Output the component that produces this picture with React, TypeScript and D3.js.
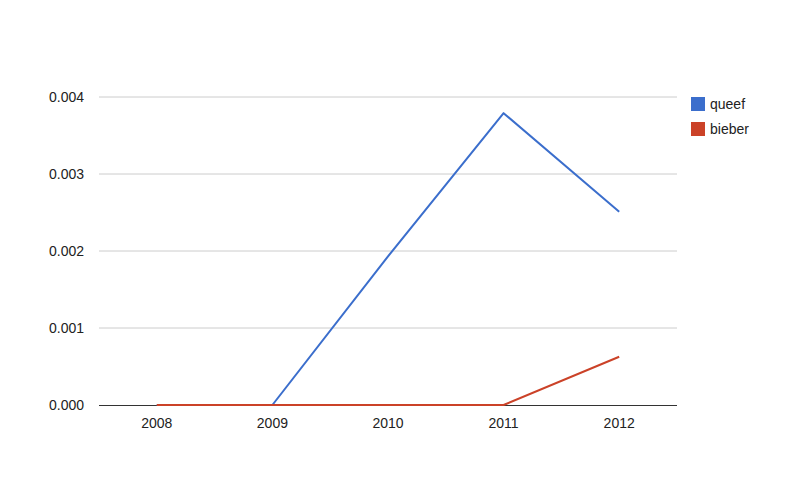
import * as d3 from "d3";

const years = ["2008", "2009", "2010", "2011", "2012"];
const seriesNames = ["queef", "bieber"];
const queef = [0, 0, 0.00193, 0.00379, 0.00251];
const bieber = [0, 0, 0, 0, 0.000627];
const yTicks = [0, 0.001, 0.002, 0.003, 0.004];

const colors = ["#3b6ecc", "#cb4228"];

const WIDTH = 795;
const HEIGHT = 488;
const LEFT = 99;
const RIGHT = 677;
const TOP = 97;
const BOTTOM = 405;

export default function App() {
	const x = d3.scaleBand<string>().domain(years).range([LEFT, RIGHT]);
	const y = d3.scaleLinear().domain([0, 0.004]).range([BOTTOM, TOP]);
	const fmt = d3.format(".3f");

	const lineGen = d3
		.line<number>()
		.x((_, i) => (x(years[i]) ?? 0) + x.bandwidth() / 2)
		.y((d) => y(d));

	// bieber drawn after queef so it sits on top along the baseline
	const series = [queef, bieber];

	return (
		<svg
			width={WIDTH}
			height={HEIGHT}
			style={{ position: "absolute", left: 0, top: 0 }}
			fontFamily="Arial, 'Liberation Sans', sans-serif"
		>
			<rect width={WIDTH} height={HEIGHT} fill="#fff" />
			{yTicks.map((t) => (
				<g key={t}>
					{t > 0 && (
						<line x1={LEFT} x2={RIGHT} y1={y(t)} y2={y(t)} stroke="#cccccc" strokeWidth={1} />
					)}
					<text
						x={84}
						y={y(t)}
						dy="0.35em"
						textAnchor="end"
						fontSize={14}
						fill="#222"
					>
						{fmt(t)}
					</text>
				</g>
			))}
			<line x1={LEFT} x2={RIGHT} y1={BOTTOM + 0.5} y2={BOTTOM + 0.5} stroke="#333" strokeWidth={1} />
			{years.map((yr) => (
				<text
					key={yr}
					x={(x(yr) ?? 0) + x.bandwidth() / 2}
					y={427.5}
					textAnchor="middle"
					fontSize={14}
					fill="#222"
				>
					{yr}
				</text>
			))}
			{series.map((s, i) => (
				<path
					key={seriesNames[i]}
					d={lineGen(s) ?? ""}
					fill="none"
					stroke={colors[i]}
					strokeWidth={2}
					strokeLinejoin="round"
				/>
			))}
			{seriesNames.map((name, i) => (
				<g key={name} transform={`translate(691, ${97 + i * 25})`}>
					<rect width={14} height={14} fill={colors[i]} />
					<text x={19} y={7} dy="0.35em" fontSize={14} fill="#222">
						{name}
					</text>
				</g>
			))}
		</svg>
	);
}
